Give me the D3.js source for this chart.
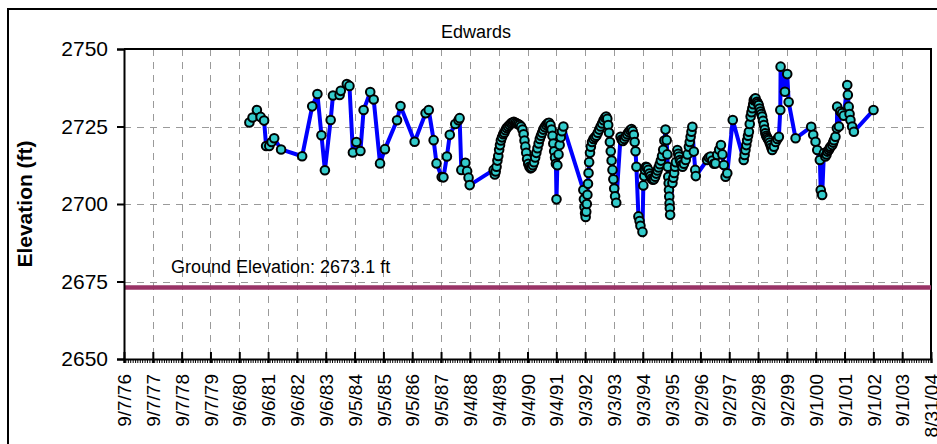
<!DOCTYPE html>
<html>
<head>
<meta charset="utf-8">
<script src="https://cdn.jsdelivr.net/npm/d3@7"></script>
<style>
  html, body { margin: 0; padding: 0; background: #fff; }
  svg { display: block; font-family: "Liberation Sans", Arial, sans-serif; }
</style>
</head>
<body>
<svg id="chart" width="937" height="444"></svg>
<script>
// ---------------- DATA ----------------
const chartTitle = "Edwards";
const yAxisTitle = "Elevation (ft)";
const groundElevation = 2673.1;
const groundLabel = "Ground Elevation: 2673.1 ft";

const xTickLabels = ["9/7/76","9/7/77","9/7/78","9/7/79","9/6/80","9/6/81","9/6/82","9/6/83",
  "9/5/84","9/5/85","9/5/86","9/5/87","9/4/88","9/4/89","9/4/90","9/4/91","9/3/92","9/3/93",
  "9/3/94","9/3/95","9/2/96","9/2/97","9/2/98","9/2/99","9/1/00","9/1/01","9/1/02","9/1/03","8/31/04"];
const yTickValues = [2650, 2675, 2700, 2725, 2750];

// [decimal year, water elevation (ft)]
const obs1980s = [
  [1981.03,2726.3],[1981.14,2727.9],[1981.29,2730.3],[1981.42,2728.1],[1981.54,2726.9],
  [1981.61,2718.7],[1981.72,2718.7],[1981.80,2720.0],[1981.89,2721.2],[1982.13,2717.6],
  [1982.86,2715.4],[1983.21,2731.5],[1983.39,2735.5],[1983.53,2722.2],[1983.65,2710.9],
  [1983.85,2727.1],[1983.93,2735.0],[1984.16,2735.2],[1984.20,2736.5],[1984.41,2738.7],
  [1984.50,2738.1],[1984.62,2716.6],[1984.74,2720.0],[1984.88,2717.1],[1984.99,2730.3],
  [1985.22,2736.1],[1985.34,2733.7],[1985.56,2713.1],[1985.73,2717.7],[1986.15,2727.0],
  [1986.27,2731.6],[1986.76,2720.1],[1987.14,2729.3],[1987.25,2730.3],[1987.42,2720.6],
  [1987.52,2713.1],[1987.70,2708.7],[1987.76,2708.6],[1987.88,2715.3],[1987.98,2722.3],
  [1988.17,2725.8],[1988.28,2727.0],[1988.32,2727.7],[1988.38,2711.0],[1988.52,2713.3],
  [1988.58,2710.6],[1988.63,2708.5],[1988.67,2706.1]
];
const obs1989to1991 = [
  [1989.50,2711.0],[1989.54,2709.5],[1989.57,2710.5],[1989.60,2712.0],[1989.63,2714.0],
  [1989.66,2715.5],[1989.69,2717.5],[1989.72,2719.0],[1989.75,2720.5],[1989.79,2721.5],
  [1989.83,2722.5],[1989.87,2723.0],[1989.91,2723.8],[1989.95,2724.5],[1990.00,2725.0],
  [1990.05,2725.5],[1990.10,2726.0],[1990.15,2726.3],[1990.20,2726.5],[1990.25,2726.2],
  [1990.30,2726.0],[1990.35,2725.8],[1990.40,2725.5],[1990.45,2725.0],[1990.50,2724.0],
  [1990.54,2722.5],[1990.57,2720.5],[1990.60,2718.5],[1990.63,2716.5],[1990.66,2714.5],
  [1990.70,2713.0],[1990.74,2712.0],[1990.78,2711.5],[1990.82,2711.8],[1990.86,2712.5],
  [1990.90,2713.5],[1990.94,2715.0],[1990.98,2716.5],[1991.02,2718.0],[1991.06,2719.5],
  [1991.10,2721.0],[1991.14,2722.0],[1991.18,2723.0],[1991.22,2724.0],[1991.27,2724.8],
  [1991.32,2725.5],[1991.37,2726.0],[1991.42,2726.2],[1991.47,2725.5],[1991.51,2724.0],
  [1991.54,2722.0],[1991.57,2719.5],[1991.60,2717.0],[1991.63,2715.0],[1991.66,2713.0],
  [1991.68,2701.5],[1991.71,2712.5],[1991.75,2716.0],[1991.79,2719.0],[1991.83,2721.5],
  [1991.87,2723.5],[1991.92,2725.0]
];
const obs1992to1995 = [
  [1992.61,2704.5],[1992.63,2701.5],[1992.65,2699.0],[1992.67,2697.0],[1992.69,2695.8],
  [1992.71,2697.5],[1992.73,2700.0],[1992.75,2703.0],[1992.77,2706.5],[1992.79,2710.0],
  [1992.81,2713.5],[1992.84,2716.5],[1992.87,2718.5],[1992.91,2720.0],[1992.96,2721.0],
  [1993.01,2721.5],[1993.06,2722.0],[1993.11,2723.0],[1993.16,2724.0],[1993.21,2725.0],
  [1993.26,2726.0],[1993.31,2727.0],[1993.36,2727.8],[1993.40,2728.2],[1993.44,2727.5],
  [1993.47,2725.5],[1993.50,2723.0],[1993.53,2720.0],[1993.56,2717.0],[1993.59,2714.0],
  [1993.62,2711.0],[1993.65,2708.0],[1993.68,2705.0],[1993.71,2702.5],[1993.75,2700.4],
  [1993.90,2721.7],[1993.94,2720.8],[1993.98,2720.3],[1994.03,2721.0],[1994.08,2721.8],
  [1994.13,2722.5],[1994.18,2723.2],[1994.23,2723.8],[1994.28,2724.2],[1994.32,2723.5],
  [1994.36,2722.3],[1994.39,2720.0],[1994.42,2717.0],[1994.45,2712.0],[1994.52,2696.0],
  [1994.56,2694.5],[1994.59,2693.0],[1994.66,2691.0],[1994.69,2706.0],[1994.72,2709.0],
  [1994.75,2711.0],[1994.78,2712.0],[1994.82,2711.8],[1994.86,2711.0],[1994.90,2709.8],
  [1994.94,2709.0],[1994.98,2708.2],[1995.02,2707.8],[1995.06,2708.0],[1995.10,2708.8],
  [1995.14,2709.8],[1995.18,2710.8],[1995.22,2711.8],[1995.26,2712.8],[1995.30,2714.0],
  [1995.34,2715.5],[1995.38,2717.5],[1995.42,2720.5],[1995.46,2724.0],[1995.50,2720.6],
  [1995.52,2716.0],[1995.54,2712.0],[1995.555,2708.8],[1995.57,2706.7],[1995.58,2704.5],
  [1995.59,2702.4],[1995.60,2700.2],[1995.61,2698.6],[1995.62,2696.5]
];
const obs1995to1999 = [
  [1995.70,2706.8],[1995.73,2708.5],[1995.76,2710.0],[1995.79,2712.0],[1995.82,2713.5],
  [1995.87,2717.4],[1995.90,2716.2],[1995.93,2715.3],[1995.96,2714.2],[1995.99,2713.5],
  [1996.02,2712.6],[1996.05,2712.0],[1996.10,2713.0],[1996.16,2714.2],[1996.22,2716.0],
  [1996.27,2718.5],[1996.30,2720.0],[1996.33,2721.7],[1996.36,2723.3],[1996.39,2724.9],
  [1996.44,2716.9],[1996.49,2711.0],[1996.51,2709.0],
  [1996.90,2714.2],[1996.96,2715.0],[1997.02,2715.3],[1997.08,2714.0],[1997.14,2713.0],
  [1997.19,2713.1],[1997.25,2715.8],[1997.32,2717.5],[1997.38,2719.0],[1997.43,2716.0],
  [1997.48,2712.6],[1997.54,2708.8],[1997.60,2709.9],[1997.79,2727.1],
  [1998.17,2714.2],[1998.20,2715.8],[1998.23,2717.4],[1998.26,2719.0],[1998.29,2720.6],
  [1998.32,2722.0],[1998.35,2723.3],[1998.38,2725.8],[1998.41,2728.2],[1998.44,2729.6],
  [1998.47,2730.9],[1998.50,2732.2],[1998.52,2733.5],[1998.55,2733.9],[1998.58,2734.1],
  [1998.63,2733.0],[1998.66,2732.5],[1998.69,2731.9],[1998.72,2730.8],[1998.75,2729.8],
  [1998.78,2729.0],[1998.81,2728.2],[1998.84,2726.8],[1998.87,2725.5],[1998.90,2724.0],
  [1998.92,2722.8],[1998.95,2722.0],[1998.98,2721.5],[1999.01,2721.0],[1999.04,2720.6],
  [1999.07,2719.8],[1999.10,2719.0],[1999.13,2718.2],[1999.16,2717.4],[1999.22,2718.5],
  [1999.28,2720.0],[1999.34,2721.0],[1999.39,2721.7],[1999.44,2730.3],[1999.45,2744.3],
  [1999.60,2736.2],[1999.68,2741.9],[1999.73,2732.9],[1999.97,2721.2]
];
const obs2000to2002 = [
  [2000.51,2724.9],[2000.58,2722.3],[2000.66,2720.1],[2000.72,2717.4],[2000.81,2714.2],
  [2000.84,2704.5],[2000.89,2702.9],[2000.95,2716.4],[2001.00,2715.3],[2001.04,2716.0],
  [2001.07,2716.9],[2001.12,2717.4],[2001.15,2718.0],[2001.18,2718.5],[2001.24,2719.0],
  [2001.27,2719.8],[2001.30,2720.6],[2001.35,2721.7],[2001.40,2724.4],[2001.41,2731.4],
  [2001.47,2725.0],[2001.52,2729.8],[2001.58,2729.3],[2001.64,2728.5],[2001.76,2738.4],
  [2001.78,2735.2],[2001.81,2731.4],[2001.84,2729.0],[2001.87,2727.1],[2001.93,2725.0],
  [2001.99,2723.3],[2002.67,2730.3]
];

// ---------------- CHART ----------------
const svg = d3.select("#chart");
const plot = { left: 124, right: 931, top: 49, bottom: 359 };
const FONT = "Liberation Sans, Arial, sans-serif";

const parseTick = d3.timeParse("%m/%d/%y");
const tickDates = xTickLabels.map(parseTick);

function yearToDate(yv) {
  const yr = Math.floor(yv);
  const start = new Date(yr, 0, 1).getTime();
  const end = new Date(yr + 1, 0, 1).getTime();
  return new Date(start + (yv - yr) * (end - start));
}

const data = [].concat(obs1980s, obs1989to1991, obs1992to1995, obs1995to1999, obs2000to2002)
  .map(([yv, v]) => ({ date: yearToDate(yv), value: v }));

const x = d3.scaleTime()
  .domain([tickDates[0], tickDates[tickDates.length - 1]])
  .range([plot.left, plot.right]);
const y = d3.scaleLinear()
  .domain([yTickValues[0], yTickValues[yTickValues.length - 1]])
  .range([plot.bottom, plot.top]);

// outer frame (extends beyond right/bottom edges)
svg.append("rect")
  .attr("x", 8).attr("y", 9)
  .attr("width", 940).attr("height", 450)
  .attr("fill", "#fff").attr("stroke", "#000").attr("stroke-width", 2);

// gridlines
const grid = svg.append("g").attr("stroke", "#9a9a9a").attr("stroke-width", 1)
  .attr("stroke-dasharray", "7,6");
grid.selectAll("line.v").data(tickDates.slice(1, -1)).enter().append("line")
  .attr("x1", d => Math.round(x(d)) + 0.5).attr("x2", d => Math.round(x(d)) + 0.5)
  .attr("y1", plot.top).attr("y2", plot.bottom);
grid.selectAll("line.h").data(yTickValues.slice(1, -1)).enter().append("line")
  .attr("x1", plot.left).attr("x2", plot.right)
  .attr("y1", d => Math.round(y(d)) + 0.5).attr("y2", d => Math.round(y(d)) + 0.5);

// plot border top/right
svg.append("path")
  .attr("d", `M${plot.left},${plot.top}H${plot.right}V${plot.bottom}`)
  .attr("fill", "none").attr("stroke", "#000").attr("stroke-width", 2);

// ground elevation line
svg.append("line")
  .attr("x1", plot.left).attr("x2", plot.right)
  .attr("y1", y(groundElevation)).attr("y2", y(groundElevation))
  .attr("stroke", "#993366").attr("stroke-width", 4.5);
svg.append("text")
  .attr("x", 171).attr("y", y(groundElevation) - 14)
  .attr("font-size", 18).attr("fill", "#000")
  .text(groundLabel);

// series line
svg.append("path").datum(data)
  .attr("fill", "none").attr("stroke", "#0000ff").attr("stroke-width", 4)
  .attr("stroke-linejoin", "round")
  .attr("d", d3.line().x(d => x(d.date)).y(d => y(d.value)));

// markers
svg.append("g").selectAll("circle").data(data).enter().append("circle")
  .attr("cx", d => x(d.date)).attr("cy", d => y(d.value))
  .attr("r", 4.3)
  .attr("fill", "#33cccc").attr("stroke", "#000").attr("stroke-width", 2);

// y axis
const yAxis = d3.axisLeft(y).tickValues(yTickValues).tickSize(7).tickPadding(9)
  .tickFormat(d3.format("d"));
const gy = svg.append("g").attr("transform", `translate(${plot.left},0)`).call(yAxis);
gy.select(".domain").attr("stroke-width", 2);
gy.selectAll(".tick line").attr("stroke-width", 2);
gy.selectAll("text").attr("font-size", 21).attr("font-family", FONT).attr("fill", "#000");

// x axis minor ticks (monthly)
const minorDates = d3.timeMonth.range(tickDates[0], tickDates[tickDates.length - 1]);
svg.append("g").selectAll("line").data(minorDates).enter().append("line")
  .attr("x1", d => x(d)).attr("x2", d => x(d))
  .attr("y1", plot.bottom).attr("y2", plot.bottom + 4)
  .attr("stroke", "#000").attr("stroke-width", 1);

// x axis
const xAxis = d3.axisBottom(x).tickValues(tickDates).tickSize(4).tickPadding(8)
  .tickFormat((d, i) => xTickLabels[i]);
const gx = svg.append("g").attr("transform", `translate(0,${plot.bottom})`).call(xAxis);
gx.select(".domain").attr("stroke-width", 2);
gx.selectAll(".tick line").attr("y1", -7).attr("stroke-width", 2);
gx.selectAll("text")
  .attr("font-size", 19).attr("font-family", FONT).attr("fill", "#000")
  .attr("transform", "rotate(-90)")
  .attr("text-anchor", "end")
  .attr("x", -15).attr("y", 0).attr("dy", "0.35em");

// title
svg.append("text")
  .attr("x", 476).attr("y", 38).attr("text-anchor", "middle")
  .attr("font-size", 18).attr("fill", "#000").text(chartTitle);

// y axis title
svg.append("text")
  .attr("transform", `translate(32,${(plot.top + plot.bottom) / 2}) rotate(-90)`)
  .attr("text-anchor", "middle").attr("font-size", 21).attr("font-weight", "bold")
  .attr("fill", "#000").text(yAxisTitle);
</script>
</body>
</html>
